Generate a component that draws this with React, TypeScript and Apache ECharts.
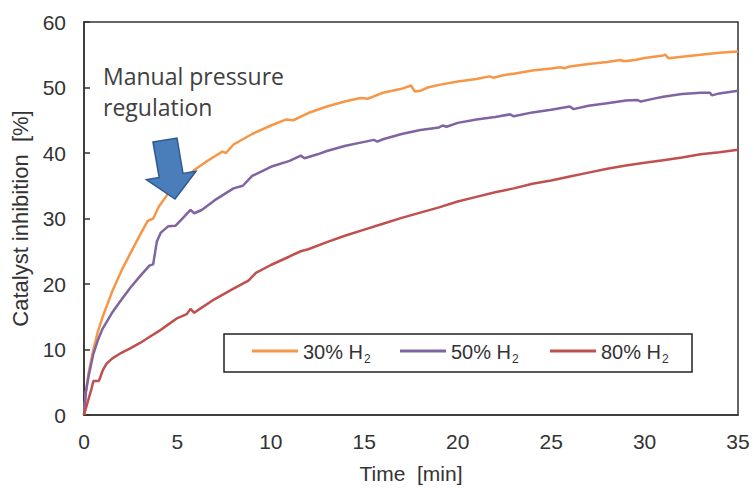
import React, { useEffect, useRef } from "react";
import * as echarts from "echarts";

const seriesNames = ["30% H2", "50% H2", "80% H2"];
const seriesColors = ["#F79646", "#8064A2", "#C0504D"];

const t30 = [0, 0.1, 0.25, 0.5, 0.75, 1, 1.5, 2, 2.5, 3, 3.4, 3.7, 4, 4.5, 5, 5.5, 6, 6.5, 7, 7.4, 7.6, 8, 9, 10, 10.8, 11.2, 12, 13, 14, 14.8, 15.2, 16, 17, 17.5, 17.7, 18, 18.4, 19, 20, 21, 21.7, 21.9, 22.5, 23, 24, 25, 25.5, 25.7, 26, 27, 28, 28.7, 28.9, 29.5, 30, 31, 31.1, 31.3, 32, 33, 34, 35];
const v30 = [0, 3.5, 6.5, 10, 12.8, 15, 18.8, 22, 24.8, 27.5, 29.6, 30, 31.8, 33.8, 35.3, 36.5, 37.6, 38.6, 39.5, 40.2, 40, 41.3, 42.9, 44.2, 45.1, 45, 46.1, 47.1, 47.9, 48.4, 48.3, 49.2, 49.8, 50.3, 49.4, 49.5, 50, 50.4, 50.9, 51.3, 51.7, 51.5, 51.9, 52.1, 52.6, 52.9, 53.1, 52.95, 53.2, 53.6, 53.9, 54.2, 54.0, 54.2, 54.5, 54.9, 55, 54.45, 54.7, 55.0, 55.3, 55.5];

const t50 = [0, 0.1, 0.25, 0.5, 0.75, 1, 1.5, 2, 2.5, 3, 3.5, 3.7, 3.9, 4.1, 4.5, 4.9, 5.2, 5.7, 5.9, 6.3, 7, 8, 8.5, 9, 10, 11, 11.6, 11.8, 12.5, 13, 14, 15, 15.5, 15.7, 16, 17, 18, 19, 19.2, 19.4, 20, 21, 22, 22.8, 23, 24, 25, 26, 26.2, 27, 28, 29, 29.6, 29.8, 30.5, 31, 32, 33, 33.5, 33.6, 34, 35];
const v50 = [0, 3.5, 6, 9.3, 11.5, 13.2, 15.6, 17.6, 19.5, 21.2, 22.8, 23, 26.5, 27.8, 28.8, 28.9, 29.8, 31.3, 30.8, 31.3, 32.8, 34.6, 35, 36.5, 37.9, 38.8, 39.6, 39.2, 39.8, 40.3, 41.1, 41.7, 42, 41.75, 42.1, 42.9, 43.5, 43.9, 44.2, 44.0, 44.6, 45.1, 45.5, 45.9, 45.6, 46.2, 46.6, 47.1, 46.7, 47.2, 47.6, 48, 48.1, 47.85, 48.3, 48.6, 49, 49.2, 49.2, 48.8, 49.1, 49.5];

const t80 = [0, 0.2, 0.4, 0.5, 0.8, 1, 1.2, 1.5, 2, 2.5, 3, 3.5, 4, 4.5, 5, 5.5, 5.7, 5.9, 6.2, 7, 8, 8.8, 9.2, 10, 11, 11.6, 12, 13, 14, 15, 16, 17, 18, 19, 20, 21, 22, 23, 24, 25, 26, 27, 28, 29, 30, 31, 32, 33, 34, 35];
const v80 = [0, 2, 4, 5.2, 5.2, 6.8, 7.8, 8.6, 9.5, 10.2, 11, 11.9, 12.8, 13.8, 14.8, 15.4, 16.2, 15.6, 16.2, 17.7, 19.3, 20.5, 21.7, 22.9, 24.2, 25, 25.3, 26.4, 27.4, 28.3, 29.2, 30.1, 30.9, 31.7, 32.6, 33.3, 34, 34.6, 35.3, 35.8, 36.4, 37, 37.6, 38.1, 38.5, 38.9, 39.3, 39.8, 40.1, 40.5];

const xTicks = [0, 5, 10, 15, 20, 25, 30, 35];
const yTicks = [0, 10, 20, 30, 40, 50, 60];

const yTitle = "Catalyst inhibition  [%]";
const xTitle = "Time  [min]";
const noteLines = ["Manual pressure", "regulation"];

const zip = (t: number[], v: number[]) => t.map((x, i) => [x, v[i]]);

const legendLefts = [252, 400, 550];

export default function App() {
  const ref = useRef<HTMLDivElement>(null);
  useEffect(() => {
    if (!ref.current) return;
    const chart = echarts.init(ref.current, null, { renderer: "svg" });
    const font = "'Liberation Sans', Arial, sans-serif";
    const allData = [zip(t30, v30), zip(t50, v50), zip(t80, v80)];
    const legendFmt = (name: string) => `{n|${name.slice(0, -1)}}{s|${name.slice(-1)}}`;
    chart.setOption({
      animation: false,
      backgroundColor: "#fff",
      grid: {
        left: 84,
        right: 16,
        top: 22,
        bottom: 74,
        show: true,
        borderColor: "#333",
        borderWidth: 1.5,
      },
      xAxis: {
        type: "value",
        min: xTicks[0],
        max: xTicks[xTicks.length - 1],
        interval: 5,
        name: xTitle,
        nameLocation: "middle",
        nameGap: 48,
        nameTextStyle: { fontFamily: font, fontSize: 21, color: "#333" },
        axisLine: { show: true, lineStyle: { color: "#333", width: 1.5 } },
        axisTick: { show: false },
        splitLine: { show: false },
        axisLabel: { fontFamily: font, fontSize: 21, color: "#333", margin: 16 },
      },
      yAxis: {
        type: "value",
        min: yTicks[0],
        max: yTicks[yTicks.length - 1],
        interval: 10,
        name: yTitle,
        nameLocation: "middle",
        nameGap: 48,
        nameTextStyle: { fontFamily: font, fontSize: 22, color: "#333" },
        axisLine: { show: true, lineStyle: { color: "#333", width: 1.5 } },
        axisTick: { show: true, inside: true, length: 6, lineStyle: { color: "#333", width: 1.5 } },
        splitLine: { show: false },
        axisLabel: { fontFamily: font, fontSize: 21, color: "#333", margin: 18 },
      },
      legend: seriesNames.map((n, i) => ({
        data: [n],
        left: legendLefts[i],
        top: 342,
        padding: 0,
        itemWidth: 46,
        itemHeight: 3,
        itemGap: 0,
        icon: "rect",
        formatter: legendFmt,
        textStyle: {
          rich: {
            n: { fontFamily: font, fontSize: 20, color: "#333", lineHeight: 22, verticalAlign: "bottom" },
            s: { fontFamily: font, fontSize: 12, color: "#333", lineHeight: 22, verticalAlign: "bottom", padding: [0, 0, -3, 1] },
          },
        },
      })),
      graphic: [
        {
          type: "rect",
          shape: { x: 224, y: 334, width: 468, height: 38 },
          style: { fill: "none", stroke: "#222", lineWidth: 1.5 },
          z: 10,
        },
        {
          type: "polygon",
          shape: {
            points: [
              [153, 142],
              [177, 138],
              [183, 173.5],
              [196, 171.3],
              [175, 199],
              [146.4, 179.7],
              [159.2, 177.5],
            ],
          },
          style: { fill: "#4A7EBB", stroke: "#2F5A8F", lineWidth: 1.5 },
          z: 10,
        },
        {
          type: "text",
          left: 103,
          top: 60,
          style: {
            text: noteLines.join("\n"),
            font: "23px 'Open Sans', sans-serif",
            fill: "#404040",
            lineHeight: 31,
          },
          z: 10,
        },
      ],
      series: seriesNames.map((n, i) => ({
        name: n,
        type: "line",
        data: allData[i],
        showSymbol: false,
        symbol: "none",
        lineStyle: { color: seriesColors[i], width: 2.5 },
        itemStyle: { color: seriesColors[i] },
      })),
    });
    return () => chart.dispose();
  }, []);
  return <div ref={ref} style={{ width: 754, height: 489, position: "absolute", left: 0, top: 0 }} />;
}
